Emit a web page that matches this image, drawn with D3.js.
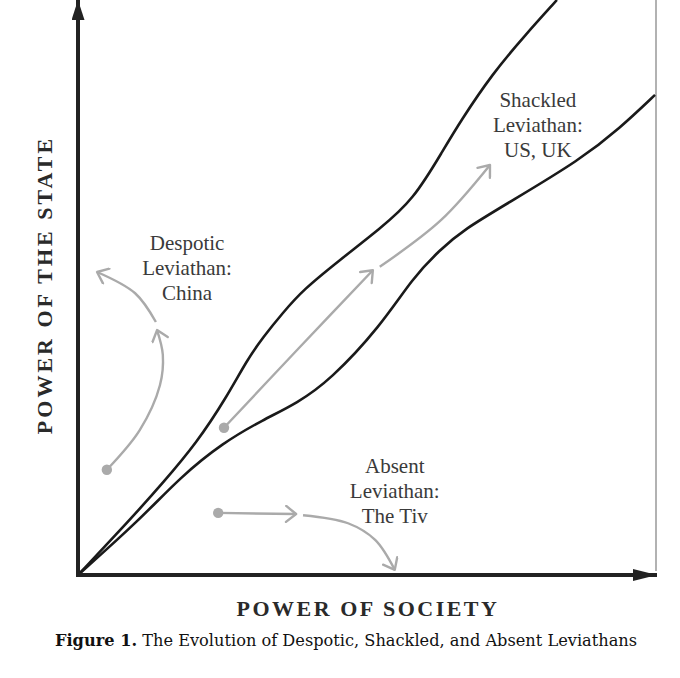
<!DOCTYPE html>
<html lang="en">
<head>
<meta charset="utf-8">
<title>The Evolution of Despotic, Shackled, and Absent Leviathans</title>
<script src="https://cdn.jsdelivr.net/npm/d3@7"></script>
<style>
  body { margin: 0; background: #fff; }
  .note { font-family: "Liberation Serif", serif; font-size: 21px; fill: #3a3a3a; }
  .axis_label { font-family: "Liberation Serif", serif; font-size: 22px; font-weight: bold; fill: #2a2a2a; letter-spacing: 3px; }
  .caption { font-family: "DejaVu Serif", serif; font-size: 16.2px; fill: #111; }
</style>
</head>
<body>
<div id="chart"></div>
<script>
// power of society (x) vs power of the state (y), both 0..100
var upperX = [0, 9.0, 14.7, 20.6, 25.8, 29.3, 32.1, 35.5, 39.0, 45.4, 52.3, 58.1, 63.3, 66.2, 71.9, 77.5, 83.0];
var upperY = [0, 9.6, 16.0, 23.0, 31.0, 37.4, 41.4, 45.6, 49.6, 54.8, 60.2, 65.2, 73.9, 78.8, 87.3, 93.9, 100];
var lowerX = [0, 10.7, 17.7, 25.1, 32.1, 38.0, 43.7, 52.3, 58.1, 62.7, 66.7, 75.4, 87.0, 93.9, 100];
var lowerY = [0, 9.6, 17.0, 23.0, 27.0, 29.9, 33.9, 43.1, 51.8, 56.5, 60.0, 65.2, 72.2, 77.7, 83.5];

// gray evolution paths, each one a list of [society, state] points
var despoticPath1 = [[5.0, 18.3], [10.7, 25.2], [14.2, 33.0], [14.7, 38.3], [13.7, 42.6]];
var despoticPath2 = [[13.5, 44.0], [9.9, 49.0], [3.3, 52.7]];
var shackledPath1 = [[25.3, 25.6], [38.5, 39.7], [51.1, 53.0]];
var shackledPath2 = [[52.3, 53.6], [62.9, 61.7], [71.4, 71.3]];
var absentPath1 = [[24.3, 10.8], [37.8, 10.6]];
var absentPath2 = [[39.0, 10.4], [46.8, 9.0], [51.5, 6.1], [54.9, 0.9]];

var noteLines = [
  ["Despotic", "Leviathan:", "China"],
  ["Shackled", "Leviathan:", "US, UK"],
  ["Absent", "Leviathan:", "The Tiv"]
];
var noteAnchors = [[18.9, 56.5], [79.7, 81.4], [54.9, 17.7]];

var xLabel = "POWER OF SOCIETY";
var yLabel = "POWER OF THE STATE";
var captionBold = "Figure 1.";
var captionText = " The Evolution of Despotic, Shackled, and Absent Leviathans";

var W = 680, H = 678;
var svg = d3.select("#chart").append("svg")
  .attr("width", W).attr("height", H);

var x = d3.scaleLinear().domain([0, 100]).range([78, 655]);
var y = d3.scaleLinear().domain([0, 100]).range([575, 0]);

var defs = svg.append("defs");
defs.append("marker")
  .attr("id", "solidX").attr("viewBox", "0 0 24 12")
  .attr("refX", 24).attr("refY", 6)
  .attr("markerWidth", 24).attr("markerHeight", 12)
  .attr("markerUnits", "userSpaceOnUse").attr("orient", "auto")
  .append("path").attr("d", "M0,0L24,6L0,12Z").attr("fill", "#222");
defs.append("marker")
  .attr("id", "solidY").attr("viewBox", "0 0 20 13")
  .attr("refX", 20).attr("refY", 6.5)
  .attr("markerWidth", 20).attr("markerHeight", 13)
  .attr("markerUnits", "userSpaceOnUse").attr("orient", "auto")
  .append("path").attr("d", "M0,0L20,6.5L0,13Z").attr("fill", "#222");
defs.append("marker")
  .attr("id", "chev").attr("viewBox", "-12 -9 14 18")
  .attr("refX", 0).attr("refY", 0)
  .attr("markerWidth", 14).attr("markerHeight", 18)
  .attr("markerUnits", "userSpaceOnUse").attr("orient", "auto")
  .append("path").attr("d", "M-10,-8L0,0L-10,8")
  .attr("fill", "none").attr("stroke", "#aaa").attr("stroke-width", 2.4)
  .attr("stroke-linecap", "round").attr("stroke-linejoin", "round");

// thin right frame line
svg.append("line")
  .attr("x1", x(100) + 1).attr("x2", x(100) + 1)
  .attr("y1", y(100)).attr("y2", y(0) - 4)
  .attr("stroke", "#999").attr("stroke-width", 1.5);

// the two frontier curves
var frontierLine = d3.line()
  .x(function(d) { return x(d[0]); })
  .y(function(d) { return y(d[1]); })
  .curve(d3.curveBasis);

var line = d3.line()
  .x(function(d) { return x(d[0]); })
  .y(function(d) { return y(d[1]); })
  .curve(d3.curveCatmullRom.alpha(0.5));

var upper = upperX.map(function(v, i) { return [v, upperY[i]]; });
var lower = lowerX.map(function(v, i) { return [v, lowerY[i]]; });

svg.selectAll(".frontier")
  .data([upper, lower])
  .enter().append("path")
  .attr("class", "frontier")
  .attr("d", frontierLine)
  .attr("fill", "none")
  .attr("stroke", "#1a1a1a")
  .attr("stroke-width", 2.6);

// gray arrows
var arrows = [despoticPath1, despoticPath2, shackledPath1, shackledPath2, absentPath1, absentPath2];
svg.selectAll(".evo")
  .data(arrows)
  .enter().append("path")
  .attr("class", "evo")
  .attr("d", line)
  .attr("fill", "none")
  .attr("stroke", "#aaa")
  .attr("stroke-width", 2.4)
  .attr("marker-end", "url(#chev)");

svg.selectAll(".start")
  .data([despoticPath1[0], shackledPath1[0], absentPath1[0]])
  .enter().append("circle")
  .attr("class", "start")
  .attr("cx", function(d) { return x(d[0]); })
  .attr("cy", function(d) { return y(d[1]); })
  .attr("r", 5.2)
  .attr("fill", "#aaa");

// axes
svg.append("line")
  .attr("x1", x(0)).attr("y1", y(0))
  .attr("x2", x(100) + 2).attr("y2", y(0))
  .attr("stroke", "#222").attr("stroke-width", 4)
  .attr("marker-end", "url(#solidX)");
svg.append("line")
  .attr("x1", x(0)).attr("y1", y(0) + 2)
  .attr("x2", x(0)).attr("y2", y(100))
  .attr("stroke", "#222").attr("stroke-width", 4)
  .attr("marker-end", "url(#solidY)");

// notes
noteLines.forEach(function(lines, i) {
  var t = svg.append("text")
    .attr("class", "note")
    .attr("text-anchor", "middle")
    .attr("x", x(noteAnchors[i][0]))
    .attr("y", y(noteAnchors[i][1]));
  lines.forEach(function(s, j) {
    t.append("tspan")
      .attr("x", x(noteAnchors[i][0]))
      .attr("dy", j === 0 ? 0 : 25)
      .text(s);
  });
});

svg.append("text")
  .attr("class", "axis_label")
  .attr("text-anchor", "middle")
  .attr("x", 368).attr("y", 616)
  .style("letter-spacing", "2.5px")
  .text(xLabel);

svg.append("text")
  .attr("class", "axis_label")
  .attr("text-anchor", "middle")
  .attr("transform", "translate(52,285) rotate(-90)")
  .text(yLabel);

var cap = svg.append("text")
  .attr("class", "caption")
  .attr("text-anchor", "middle")
  .attr("x", 346).attr("y", 646);
cap.append("tspan").attr("font-weight", "bold").text(captionBold);
cap.append("tspan").text(captionText);
</script>
</body>
</html>
